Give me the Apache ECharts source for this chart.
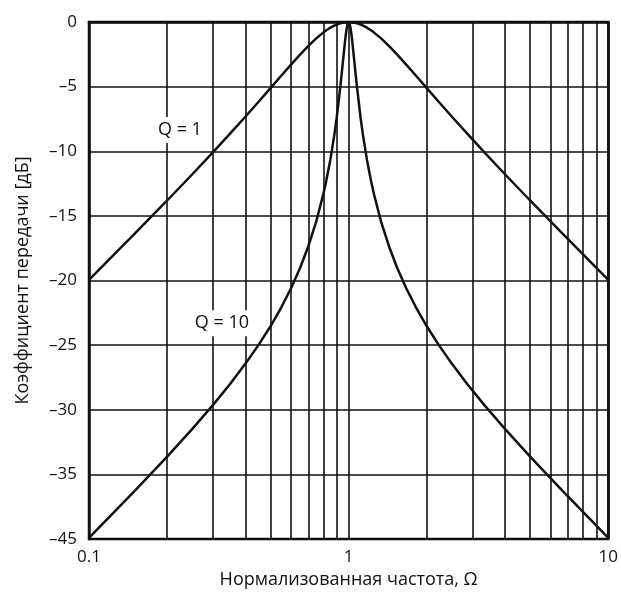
<!DOCTYPE html>
<html>
<head>
<meta charset="utf-8" />
<title></title>
<script src="https://cdn.jsdelivr.net/npm/echarts@6/dist/echarts.min.js"></script>
<style>
  body { margin: 0; padding: 0; background: #fff; }
  #main { width: 621px; height: 595px; }
</style>
</head>
<body>
<div id="main"></div>
<script type="text/javascript">
// normalized frequency (Omega)
var freq = [0.1, 0.15, 0.2, 0.25, 0.3, 0.35, 0.4, 0.45, 0.5, 0.55, 0.6, 0.65, 0.7, 0.75, 0.8, 0.82, 0.85, 0.88, 0.9, 0.93, 0.95, 0.97, 0.98, 0.99, 1,
  1.0101, 1.0204, 1.0309, 1.0526, 1.0753, 1.1111, 1.1364, 1.1765, 1.2195, 1.25, 1.3333, 1.4286, 1.5385, 1.6667, 1.8182, 2, 2.2222, 2.5, 2.8571, 3.3333, 4, 5, 6.6667, 10];
// gain, dB
var gainQ1 = [-19.96, -16.38, -13.81, -11.78, -10.09, -8.62, -7.33, -6.17, -5.12, -4.16, -3.30, -2.53, -1.85, -1.27, -0.80, -0.64, -0.44, -0.28, -0.19, -0.09, -0.05, -0.02, -0.01, 0, 0,
  0, -0.01, -0.02, -0.05, -0.09, -0.19, -0.28, -0.44, -0.64, -0.80, -1.27, -1.85, -2.53, -3.30, -4.16, -5.12, -6.17, -7.33, -8.62, -10.09, -11.78, -13.81, -16.38, -19.96];
var gainQ10 = [-39.91, -36.28, -33.63, -31.48, -29.64, -27.99, -26.45, -24.98, -23.54, -22.09, -20.60, -19.03, -17.33, -15.44, -13.27, -12.29, -10.67, -8.79, -7.37, -4.93, -3.12, -1.37, -0.66, -0.17, 0,
  -0.17, -0.66, -1.37, -3.12, -4.93, -7.37, -8.79, -10.67, -12.29, -13.27, -15.44, -17.33, -19.03, -20.60, -22.09, -23.54, -24.98, -26.45, -27.99, -29.64, -31.48, -33.63, -36.28, -39.91];
// extra vertical grid lines
var minorX = [0.2, 0.3, 0.4, 0.5, 0.6, 0.7, 0.8, 0.9, 2, 3, 4, 5, 6, 7, 8, 9];
// y tick labels as printed (bottom one reads -45 in the original)
var yTicks = [0, -5, -10, -15, -20, -25, -30, -35, -40];
var yTickText = ['0', '–5', '–10', '–15', '–20', '–25', '–30', '–35', '–45'];
var xTickText = { '0.1': '0.1', '1': '1', '10': '10' };
// curve labels: text and where they sit
var curveLabels = ['Q = 1', 'Q = 10'];
var curveLabelAt = [[0.224, -8.36], [0.325, -23.3]];

var font = 'Open Sans';

function pairs(ys) {
  return freq.map(function (f, i) { return [f, ys[i]]; });
}

var chart = echarts.init(document.getElementById('main'));
chart.setOption({
  animation: false,
  backgroundColor: '#fff',
  textStyle: { fontFamily: font, color: '#111' },
  grid: { left: 89, right: 12, top: 22, bottom: 56, show: true, borderColor: '#111', borderWidth: 2.5, backgroundColor: 'transparent' },
  xAxis: {
    type: 'log', logBase: 10, min: 0.1, max: 10,
    name: 'Нормализованная частота, Ω', nameLocation: 'middle', nameGap: 23,
    nameTextStyle: { fontFamily: font, fontSize: 18, color: '#111' },
    axisLine: { lineStyle: { color: '#111', width: 2.5 } },
    axisTick: { show: false },
    axisLabel: {
      fontFamily: font, fontSize: 17, color: '#111', margin: 10,
      formatter: function (v) { return xTickText[String(v)] || ''; }
    },
    splitLine: { show: true, lineStyle: { color: '#111', width: 1.6 } }
  },
  yAxis: {
    type: 'value', min: -40, max: 0, interval: 5,
    name: 'Коэффициент передачи [дБ]', nameLocation: 'middle', nameGap: 57,
    nameTextStyle: { fontFamily: font, fontSize: 18, color: '#111' },
    axisLine: { show: true, lineStyle: { color: '#111', width: 2.5 } },
    axisTick: { show: false },
    axisLabel: {
      fontFamily: font, fontSize: 17, color: '#111', margin: 12,
      formatter: function (v) { var i = yTicks.indexOf(v); return i >= 0 ? yTickText[i] : ''; }
    },
    splitLine: { show: true, lineStyle: { color: '#111', width: 1.6 } }
  },
  series: [
    {
      name: 'grid',
      type: 'line',
      data: [],
      silent: true,
      markLine: {
        silent: true, symbol: 'none', label: { show: false },
        lineStyle: { color: '#111', width: 1.6, type: 'solid' },
        data: minorX.map(function (v) { return { xAxis: v }; })
      }
    },
    {
      name: 'Q = 1',
      type: 'line',
      data: pairs(gainQ1),
      showSymbol: false,
      z: 5,
      lineStyle: { color: '#111', width: 2.5 }
    },
    {
      name: 'Q = 10',
      type: 'line',
      data: pairs(gainQ10),
      showSymbol: false,
      z: 5,
      lineStyle: { color: '#111', width: 2.5 }
    },
    {
      name: 'labels',
      type: 'scatter',
      z: 10,
      symbolSize: 1,
      itemStyle: { color: 'transparent', opacity: 1 },
      data: curveLabelAt.map(function (c, i) { return { value: c, name: curveLabels[i] }; }),
      label: {
        show: true, position: 'inside', formatter: '{b}',
        fontFamily: font, fontSize: 18, color: '#111', opacity: 1,
        backgroundColor: '#fff', padding: [4, 4]
      }
    }
  ]
});
</script>
</body>
</html>
